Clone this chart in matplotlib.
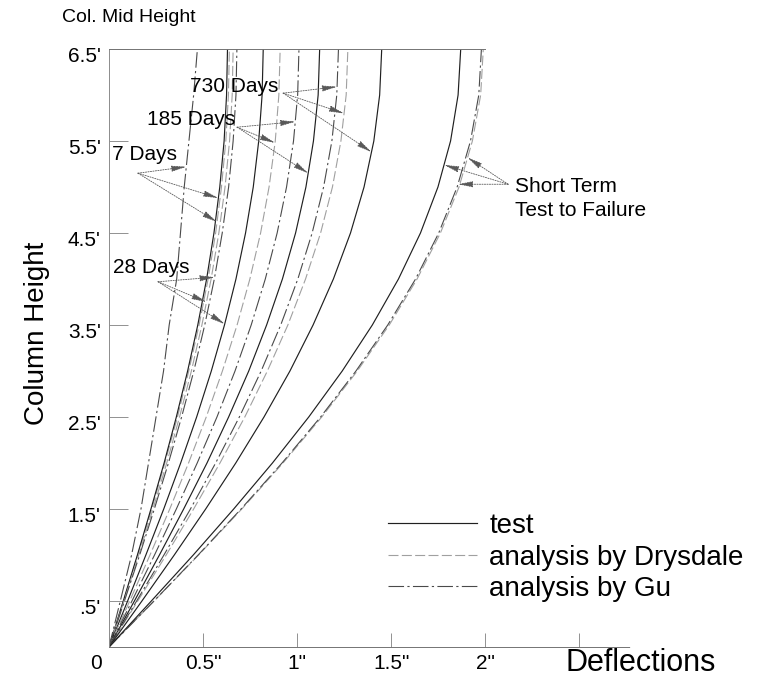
import numpy as np
import matplotlib.pyplot as plt
import matplotlib.transforms as mtransforms

plt.rcParams['font.family'] = ['Liberation Sans', 'DejaVu Sans']

# heights up the column (ft) where the deflections were read
heights = [0, 0.5, 1, 1.5, 2, 2.5, 3, 3.5, 4, 4.5, 5, 5.5, 6, 6.5]

# deflections (in)
test_7d = [0, 0.076, 0.151, 0.223, 0.293, 0.358, 0.418, 0.472, 0.519, 0.558, 0.589, 0.612, 0.625, 0.63]
drys_7d = [0, 0.077, 0.153, 0.227, 0.297, 0.364, 0.424, 0.479, 0.527, 0.567, 0.598, 0.621, 0.635, 0.64]
gu_7d = [0, 0.06, 0.12, 0.17, 0.21, 0.25, 0.29, 0.32, 0.36, 0.38, 0.40, 0.425, 0.45, 0.47]

test_28d = [0, 0.099, 0.196, 0.291, 0.381, 0.466, 0.544, 0.614, 0.675, 0.726, 0.767, 0.796, 0.814, 0.82]
drys_28d = [0, 0.080, 0.158, 0.234, 0.307, 0.375, 0.438, 0.494, 0.543, 0.584, 0.617, 0.641, 0.655, 0.66]
gu_28d = [0, 0.082, 0.163, 0.241, 0.316, 0.386, 0.451, 0.509, 0.560, 0.602, 0.636, 0.660, 0.675, 0.68]

test_185d = [0, 0.135, 0.268, 0.397, 0.521, 0.636, 0.743, 0.838, 0.922, 0.992, 1.047, 1.087, 1.112, 1.12]
drys_185d = [0, 0.110, 0.218, 0.323, 0.423, 0.517, 0.603, 0.681, 0.749, 0.806, 0.851, 0.884, 0.903, 0.91]
gu_185d = [0, 0.122, 0.242, 0.358, 0.469, 0.574, 0.670, 0.756, 0.831, 0.894, 0.944, 0.981, 1.003, 1.01]

test_730d = [0, 0.175, 0.347, 0.514, 0.674, 0.824, 0.962, 1.085, 1.193, 1.284, 1.356, 1.408, 1.439, 1.45]
drys_730d = [0, 0.153, 0.304, 0.450, 0.590, 0.722, 0.842, 0.951, 1.045, 1.125, 1.188, 1.233, 1.261, 1.27]
gu_730d = [0, 0.147, 0.292, 0.433, 0.567, 0.693, 0.809, 0.913, 1.004, 1.080, 1.141, 1.185, 1.211, 1.22]

test_st = [0, 0.225, 0.448, 0.663, 0.869, 1.062, 1.240, 1.400, 1.539, 1.656, 1.749, 1.816, 1.856, 1.87]
drys_st = [0, 0.240, 0.476, 0.706, 0.925, 1.131, 1.320, 1.490, 1.638, 1.762, 1.861, 1.932, 1.976, 1.99]
gu_st = [0, 0.239, 0.474, 0.702, 0.920, 1.125, 1.313, 1.482, 1.630, 1.753, 1.851, 1.922, 1.966, 1.98]

y_ticks = [0.5, 1.5, 2.5, 3.5, 4.5, 5.5, 6.5]
y_labels = [".5'", "1.5'", "2.5'", "3.5'", "4.5'", "5.5'", "6.5'"]
x_ticks = [0, 0.5, 1, 1.5, 2, 2.5]
x_labels = ['0', '0.5"', '1"', '1.5"', '2"', '']

test_style = dict(color='#202020', lw=0.85, linestyle='-')
drys_style = dict(color='#a0a0a0', lw=0.8, dashes=(9, 3))
gu_style = dict(color='#4a4a4a', lw=0.8, dashes=(14, 3, 2, 3))

fig = plt.figure(figsize=(7.75, 6.77), dpi=100)
ax = fig.add_axes([109 / 775, 30 / 677, 521 / 775, 598 / 677])

groups = [(test_7d, drys_7d, gu_7d), (test_28d, drys_28d, gu_28d),
          (test_185d, drys_185d, gu_185d), (test_730d, drys_730d, gu_730d),
          (test_st, drys_st, gu_st)]
handles = []
for i, (t, d, g) in enumerate(groups):
    ld, = ax.plot(d, heights, label='analysis by Drysdale', **drys_style)
    lg, = ax.plot(g, heights, label='analysis by Gu', **gu_style)
    lt, = ax.plot(t, heights, label='test', **test_style)
    if i == 0:
        handles = [lt, ld, lg]

ax.set_xlim(0, 2.77)
ax.set_ylim(0, 6.5)

ax.spines['right'].set_visible(False)
for s in ['left', 'top', 'bottom']:
    ax.spines[s].set_color('0.45')
    ax.spines[s].set_linewidth(0.7)
    ax.spines[s].set_linestyle((0, (1, 1)))
ax.spines['left'].set_linestyle('-')
ax.spines['left'].set_color('0.55')
ax.spines['top'].set_bounds(0, 2.0)

ax.set_yticks(y_ticks)
ax.set_yticklabels(y_labels, fontsize=15)
ax.set_xticks(x_ticks)
ax.set_xticklabels(x_labels, fontsize=15)
ax.tick_params(axis='y', direction='in', length=14, width=0.6, color='0.5', pad=6)
ax.tick_params(axis='x', direction='in', length=10, width=0.6, color='0.5', pad=5)

for lab in ax.get_yticklabels():
    lab.set_transform(lab.get_transform() + mtransforms.ScaledTranslation(0, -0.05, fig.dpi_scale_trans))
zero = ax.get_xticklabels()[0]
zero.set_transform(zero.get_transform() + mtransforms.ScaledTranslation(-0.13, 0, fig.dpi_scale_trans))

# annotations: label text, arrow origin, and (curve, height) of each tip
arrow_kw = dict(arrowstyle='-|>,head_length=0.9,head_width=0.18', color='0.35', lw=0.6,
                linestyle=(0, (1.5, 1.5)), shrinkA=0, shrinkB=0)
notes = [
    ('730 Days', (0.431, 6.09), (0.926, 6.02), [(gu_730d, 6.09), (drys_730d, 5.80), (test_730d, 5.38)]),
    ('185 Days', (0.202, 5.73), (0.681, 5.65), [(gu_185d, 5.71), (drys_185d, 5.48), (test_185d, 5.15)]),
    ('7 Days', (0.016, 5.35), (0.154, 5.15), [(gu_7d, 5.22), (test_7d, 4.88), (drys_7d, 4.62)]),
    ('28 Days', (0.021, 4.13), (0.261, 3.97), [(gu_28d, 4.02), (drys_28d, 3.75), (test_28d, 3.51)]),
    ('Short Term\nTest to Failure', (2.16, 5.11), (2.122, 5.03), [(test_st, 5.24), (drys_st, 5.32), (gu_st, 5.03)]),
]
for text, txy, origin, tips in notes:
    ax.text(txy[0], txy[1], text, fontsize=15, ha='left', va='center' if '\n' not in text else 'top',
            linespacing=1.35)
    for curve, h in tips:
        ax.annotate('', xy=(np.interp(h, heights, curve), h), xytext=origin, arrowprops=arrow_kw)

ax.legend(handles=handles, loc='upper left', bbox_to_anchor=(388 / 775, 1 - 513 / 677),
          bbox_transform=fig.transFigure, frameon=False, fontsize=20, handlelength=3.2,
          handletextpad=0.45, labelspacing=0.2, borderpad=0, borderaxespad=0)

fig.text(62 / 775, 1 - 18 / 677, 'Col. Mid Height', fontsize=14, ha='left', va='center')
fig.text(37 / 775, 1 - 333 / 677, 'Column Height', fontsize=20, rotation=90, ha='center', va='center')
fig.text(565 / 775, 1 - 663 / 677, 'Deflections', fontsize=22, ha='left', va='center')

fig.savefig('out.png', dpi=100)
